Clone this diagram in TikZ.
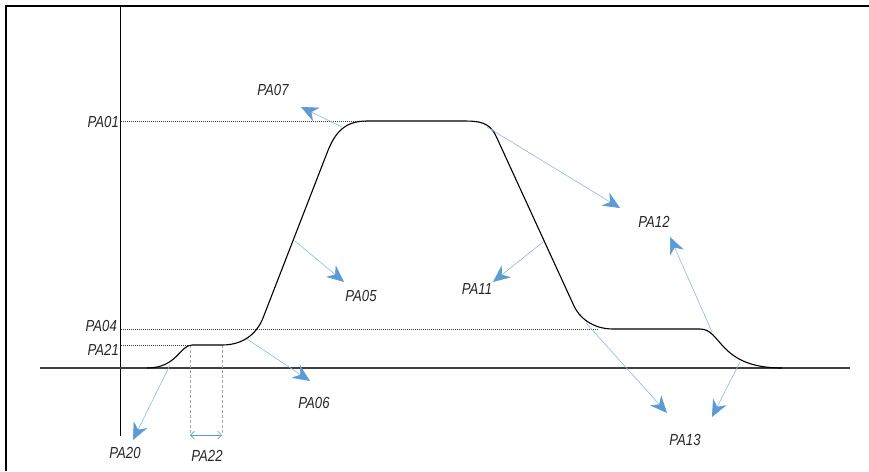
\documentclass[tikz,border=0pt]{standalone}
\usepackage{fontspec}
\newfontfamily\labfont[FakeStretch=0.82]{Liberation Sans}
\usetikzlibrary{arrows.meta}
\definecolor{arrblue}{HTML}{5B9BD5}
\definecolor{lineblue}{HTML}{8DB8E6}
\tikzset{
  lab/.style={font=\labfont\itshape\fontsize{16}{16}\selectfont, inner sep=0pt, text=black!85},
  callout/.style={draw=lineblue, line width=0.6pt,
    -{Stealth[length=17pt,width=15pt,inset=5.5pt,color=arrblue,fill=arrblue]}},
  levelline/.style={draw=black!75, line width=0.8pt, dash pattern=on 1pt off 1pt},
  guide/.style={draw=black!35, line width=0.8pt, dash pattern=on 3pt off 2pt},
  curveline/.style={draw=black, line width=1.1pt},
}
\begin{document}
\begin{tikzpicture}[x=1pt,y=-1pt]
\useasboundingbox (0,0) rectangle (869,471);
% frame
\draw[line width=2pt] (6,471) -- (6,6) -- (869,6);
% axes
\coordinate (yaxT) at (120,7);
\coordinate (yaxB) at (120,436);
\coordinate (xaxL) at (40,368);
\coordinate (xaxR) at (850,368);
\draw[line width=1pt] (yaxT) -- (yaxB);
\draw[line width=1.3pt, draw=black!75] (xaxL) -- (xaxR);
% level lines
\coordinate (l1a) at (121,121); \coordinate (l1b) at (366,121);
\coordinate (l4a) at (121,329); \coordinate (l4b) at (598,329);
\coordinate (l21a) at (121,345); \coordinate (l21b) at (191,345);
\draw[levelline] (l1a) -- (l1b);
\draw[levelline] (l4a) -- (l4b);
\draw[levelline] (l21a) -- (l21b);
% guide verticals
\coordinate (g1t) at (190,345); \coordinate (g1b) at (190,435);
\coordinate (g2t) at (222,345); \coordinate (g2b) at (222,435);
\draw[guide] (g1t) -- (g1b);
\draw[guide] (g2t) -- (g2b);
\draw[draw=arrblue, line width=0.7pt, {Straight Barb[length=4pt,width=8pt]}-{Straight Barb[length=4pt,width=8pt]}] (g1b) -- (g2b);
% the profile
\draw[curveline] (147,368) .. controls (177,368) and (180,345) .. (192,345)
  -- (222,345) .. controls (244,345) and (257,333) .. (263,318)
  -- (327,153) .. controls (335,132) and (345,121) .. (367,121)
  -- (462,121) .. controls (480,121) and (489,122) .. (496,136)
  -- (574,306) .. controls (579,317) and (592,329) .. (613,329)
  -- (700,329) .. controls (722,329) and (718,368) .. (782,368);
% labels
\node[lab] (pa07) at (273,90) {PA07};
\node[lab, anchor=east] (pa01) at (119,122) {PA01};
\node[lab, anchor=east] (pa04) at (117,325.5) {PA04};
\node[lab, anchor=east] (pa21) at (119,349.5) {PA21};
\node[lab] (pa05) at (361,296) {PA05};
\node[lab] (pa06) at (314,403) {PA06};
\node[lab] (pa20) at (125,453) {PA20};
\node[lab] (pa22) at (207,456) {PA22};
\node[lab] (pa11) at (477,289) {PA11};
\node[lab] (pa12) at (654,222) {PA12};
\node[lab] (pa13) at (685,440) {PA13};
% callout arrows
\coordinate (s20) at (170,365); \coordinate (t20) at (133,440);
\coordinate (s06) at (247,339); \coordinate (t06) at (310,381);
\coordinate (s05) at (295,241); \coordinate (t05) at (344,282);
\coordinate (s07) at (342,127); \coordinate (t07) at (301,107);
\coordinate (s12a) at (487,127); \coordinate (t12a) at (620,208);
\coordinate (s12b) at (712,332); \coordinate (t12b) at (670,237);
\coordinate (s11) at (543,242); \coordinate (t11) at (493,282);
\coordinate (s13a) at (586,323); \coordinate (t13a) at (667,413);
\coordinate (s13b) at (740,362); \coordinate (t13b) at (712,417);
\draw[callout] (s20) -- (t20);
\draw[callout] (s06) -- (t06);
\draw[callout] (s05) -- (t05);
\draw[callout] (s07) -- (t07);
\draw[callout] (s12a) -- (t12a);
\draw[callout] (s12b) -- (t12b);
\draw[callout] (s11) -- (t11);
\draw[callout] (s13a) -- (t13a);
\draw[callout] (s13b) -- (t13b);
\end{tikzpicture}
\end{document}
